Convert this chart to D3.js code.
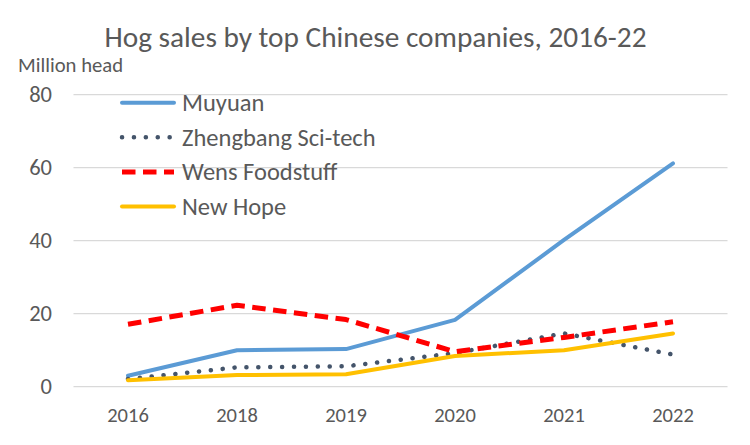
<!DOCTYPE html>
<html>
<head>
<meta charset="utf-8">
<script src="https://cdn.jsdelivr.net/npm/d3@7"></script>
<style>
  body { margin: 0; background: #fff; }
  text { font-family: Carlito, "Open Sans", sans-serif; fill: #595959; }
</style>
</head>
<body>
<svg id="chart"></svg>
<script>
const years = ['2016', '2018', '2019', '2020', '2021', '2022'];
const muyuan = [3.0, 10.0, 10.3, 18.3, 40.2, 61.2];
const zhengbang = [2.1, 5.3, 5.6, 9.2, 14.6, 8.8];
const wens = [17.1, 22.3, 18.4, 9.6, 13.5, 17.8];
const newHope = [1.8, 3.2, 3.4, 8.4, 10.0, 14.6];
const yTicks = [0, 20, 40, 60, 80];

const series = [
  { name: 'Muyuan', values: muyuan, color: '#5B9BD5', width: 4, dash: null, cap: 'round' },
  { name: 'Zhengbang Sci-tech', values: zhengbang, color: '#44546A', width: 4.5, dash: '0.1 11.8', cap: 'round' },
  { name: 'Wens Foodstuff', values: wens, color: '#FF0000', width: 5, dash: '13.5 7.5', cap: 'butt' },
  { name: 'New Hope', values: newHope, color: '#FFC000', width: 4, dash: null, cap: 'round' },
];

const width = 750;
const height = 445;
const plot = { left: 73.5, right: 727.5, top: 94.7, bottom: 386.7 };

const svg = d3.select('#chart')
  .attr('width', width)
  .attr('height', height);

const scaleX = d3.scaleBand()
  .domain(years)
  .range([plot.left, plot.right]);

const scaleY = d3.scaleLinear()
  .domain([0, 80])
  .range([plot.bottom, plot.top]);

// gridlines
svg.append('g')
  .selectAll('line')
  .data(yTicks)
  .enter().append('line')
  .attr('x1', plot.left)
  .attr('x2', plot.right)
  .attr('y1', d => scaleY(d))
  .attr('y2', d => scaleY(d))
  .attr('stroke', '#d9d9d9')
  .attr('stroke-width', 1.3);

// y labels
svg.append('g')
  .selectAll('text')
  .data(yTicks)
  .enter().append('text')
  .attr('x', 52)
  .attr('y', d => scaleY(d) + 7.5)
  .attr('text-anchor', 'end')
  .attr('font-size', 22.5)
  .text(d => d);

// x labels
svg.append('g')
  .selectAll('text')
  .data(years)
  .enter().append('text')
  .attr('x', d => scaleX(d) + scaleX.bandwidth() / 2)
  .attr('y', 422)
  .attr('text-anchor', 'middle')
  .attr('font-size', 20.5)
  .text(d => d);

svg.append('text')
  .attr('x', 375.5)
  .attr('y', 47)
  .attr('text-anchor', 'middle')
  .attr('font-size', 29.3)
  .text('Hog sales by top Chinese companies, 2016-22');

svg.append('text')
  .attr('x', 18)
  .attr('y', 72)
  .attr('font-size', 20.7)
  .text('Million head');

const line = d3.line()
  .x((d, i) => scaleX(years[i]) + scaleX.bandwidth() / 2)
  .y(d => scaleY(d));

svg.append('g')
  .selectAll('path')
  .data(series)
  .enter().append('path')
  .attr('d', d => line(d.values))
  .attr('fill', 'none')
  .attr('stroke', d => d.color)
  .attr('stroke-width', d => d.width)
  .attr('stroke-dasharray', d => d.dash)
  .attr('stroke-linecap', d => d.cap)
  .attr('stroke-linejoin', 'round');

// legend
const legend = svg.append('g')
  .selectAll('g')
  .data(series)
  .enter().append('g')
  .attr('transform', (d, i) => `translate(0, ${102.7 + i * 34.6})`);

legend.append('line')
  .attr('x1', 122)
  .attr('x2', 174)
  .attr('stroke', d => d.color)
  .attr('stroke-width', d => d.width)
  .attr('stroke-dasharray', d => d.dash)
  .attr('stroke-linecap', d => d.cap);

legend.append('text')
  .attr('x', 182)
  .attr('y', 8.5)
  .attr('font-size', 24.5)
  .text(d => d.name);
</script>
</body>
</html>
